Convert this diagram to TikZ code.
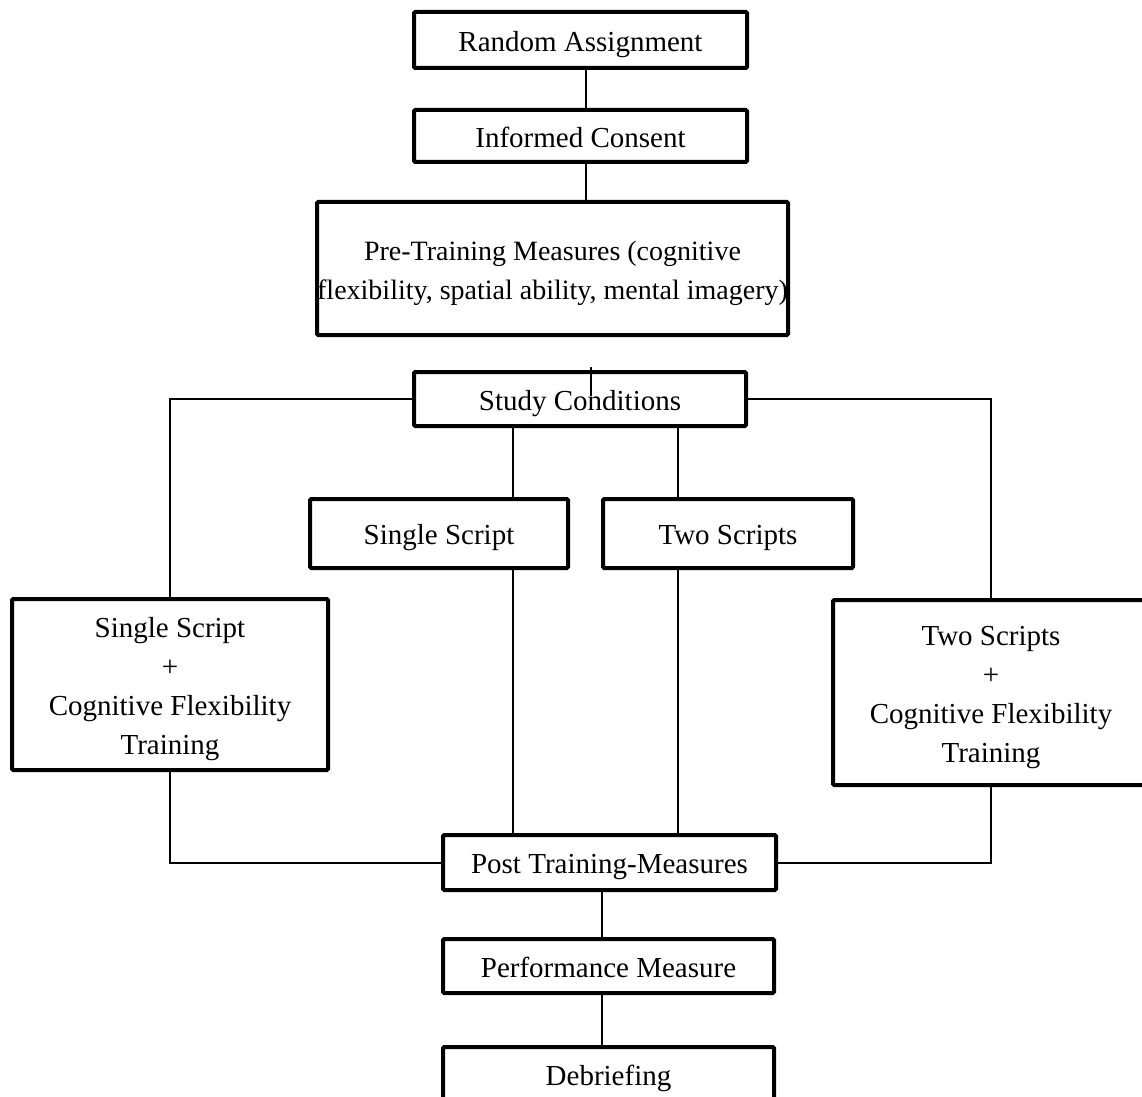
\documentclass[tikz,border=0pt]{standalone}
\usepackage{fontspec}
\setmainfont{Liberation Serif}
\newcommand{\stagetext}[1]{\raisebox{-1.8pt}[\height][\depth]{\begin{tabular}{@{}c@{}}#1\end{tabular}}}
\begin{document}
\begin{tikzpicture}[
    x=0.5pt, y=-0.5pt,
    every node/.style={font=\fontsize{14.5}{19.5}\selectfont},
    stage/.style={draw, line width=2pt, rounded corners=0.6pt, inner sep=0pt},
    link/.style={draw, line width=1pt}
]
\useasboundingbox (0,0) rectangle (1142,1097);
% Ablauf oben
\node[stage, minimum width=166.5pt, minimum height=28pt] (ra) at (580.5,40) {\stagetext{Random Assignment}};
\node[stage, minimum width=166.5pt, minimum height=26pt] (ic) at (580.5,136) {\stagetext{Informed Consent}};
\node[stage, minimum width=235.5pt, minimum height=66.5pt, font=\fontsize{14}{19.5}\selectfont] (pre) at (552.5,268.5)
    {\stagetext{Pre-Training Measures (cognitive\\flexibility, spatial ability, mental imagery)}};
\node[stage, minimum width=166pt, minimum height=27pt] (sc) at (580,399) {\stagetext{Study Conditions}};
% Bedingungen
\node[stage, minimum width=129pt, minimum height=34.5pt] (ss) at (439,533.5) {\stagetext{Single Script}};
\node[stage, minimum width=125pt, minimum height=34.5pt] (ts) at (728,533.5) {\stagetext{Two Scripts}};
\node[stage, minimum width=158pt, minimum height=85.5pt] (ssc) at (170,684.5)
    {\stagetext{Single Script\\+\\Cognitive Flexibility\\Training}};
\node[stage, minimum width=158pt, minimum height=92.5pt] (tsc) at (991,692.5)
    {\stagetext{Two Scripts\\+\\Cognitive Flexibility\\Training}};
% Ablauf unten
\node[stage, minimum width=166.5pt, minimum height=27.5pt] (post) at (609.5,862.5) {\stagetext{Post Training-Measures}};
\node[stage, minimum width=165.5pt, minimum height=27pt] (perf) at (608.5,966) {\stagetext{Performance Measure}};
\node[stage, minimum width=165.5pt, minimum height=27pt] (deb) at (608.5,1074) {\stagetext{Debriefing}};

\coordinate (top) at (586,0);
\coordinate (stub) at (591,367);
\coordinate (sL) at (513,0);
\coordinate (sR) at (678,0);
\coordinate (bot) at (602,0);

\draw[link] (ra.south -| top) -- (ic.north -| top);
\draw[link] (ic.south -| top) -- (pre.north -| top);
\draw[link] (stub) -- ([yshift=1.5pt]sc.center -| stub);
\draw[link] (sc.west) -| (ssc.north);
\draw[link] (sc.east) -| (tsc.north);
\draw[link] (sc.south -| sL) -- (ss.north -| sL);
\draw[link] (sc.south -| sR) -- (ts.north -| sR);
\draw[link] (ss.south -| sL) -- (post.north -| sL);
\draw[link] (ts.south -| sR) -- (post.north -| sR);
\draw[link] (ssc.south) |- (post.west);
\draw[link] (tsc.south) |- (post.east);
\draw[link] (post.south -| bot) -- (perf.north -| bot);
\draw[link] (perf.south -| bot) -- (deb.north -| bot);
\end{tikzpicture}
\end{document}
